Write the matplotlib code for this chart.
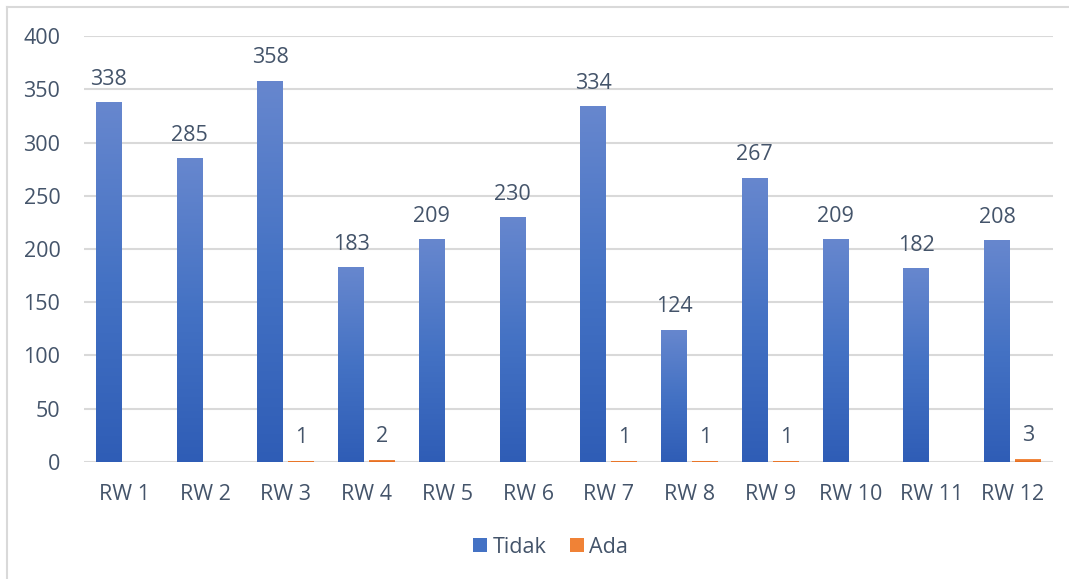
import numpy as np
import matplotlib
matplotlib.use("Agg")
import matplotlib.pyplot as plt
from matplotlib.colors import LinearSegmentedColormap
from matplotlib.lines import Line2D
from matplotlib.patches import Patch

categories = ["RW 1", "RW 2", "RW 3", "RW 4", "RW 5", "RW 6",
              "RW 7", "RW 8", "RW 9", "RW 10", "RW 11", "RW 12"]
tidak = [338, 285, 358, 183, 209, 230, 334, 124, 267, 209, 182, 208]
ada = [0, 0, 1, 2, 0, 0, 1, 1, 1, 0, 0, 3]

TEXT = "#44546A"
GRID = "#D9D9D9"
BLUE = ["#2F5DB6", "#4472C4", "#6787CE"]
ORANGE = ["#E2691C", "#F08236", "#F59A5E"]
FS = 15.5

plt.rcParams["font.family"] = ["Open Sans", "DejaVu Sans"]

fig = plt.figure(figsize=(10.69, 5.79), dpi=100)
ax = fig.add_axes([0.0786, 0.2021, 0.9064, 0.7357])

x = np.arange(len(categories))
w = 0.322
off = 0.192


def gradient_bars(xs, vals, colors):
    cmap = LinearSegmentedColormap.from_list("g", colors)
    grad = np.linspace(0, 1, 256).reshape(-1, 1)
    bars = ax.bar(xs, vals, width=w, color=colors[1], linewidth=0, zorder=2)
    for b in bars:
        h = b.get_height()
        if h <= 0:
            continue
        x0 = b.get_x()
        im = ax.imshow(grad, cmap=cmap, aspect="auto", origin="lower",
                       extent=[x0, x0 + b.get_width(), 0, h], zorder=3)
        im.set_clip_path(b)
    return bars


gradient_bars(x - off, tidak, BLUE)
gradient_bars(x + off, ada, ORANGE)

# value labels; zero counts carry no label
for xs, vals in ((x - off, tidak), (x + off, ada)):
    for xi, v in zip(xs, vals):
        if v:
            ax.annotate(str(v), (xi, v), xytext=(0, 9), textcoords="offset points",
                        ha="center", va="bottom", fontsize=FS, color=TEXT)

ax.set_xlim(-0.5, len(categories) - 0.5)
ax.set_ylim(0, 400)
ax.set_yticks(range(0, 401, 50))
ax.set_xticks(x)
ax.set_xticklabels(categories)
ax.tick_params(axis="both", length=0, labelsize=FS, labelcolor=TEXT)
ax.tick_params(axis="x", pad=16)
ax.tick_params(axis="y", pad=17)
ax.grid(axis="y", color=GRID, linewidth=1.5, zorder=0)
ax.set_axisbelow(True)
for s in ax.spines.values():
    s.set_visible(False)
ax.set_xlim(-0.5, len(categories) - 0.5)

handles = [Patch(facecolor=BLUE[1], edgecolor="none", label="Tidak"),
           Patch(facecolor=ORANGE[1], edgecolor="none", label="Ada")]
fig.legend(handles=handles, loc="center", bbox_to_anchor=(0.515, 0.055),
           ncol=2, frameon=False, fontsize=FS, labelcolor=TEXT,
           handlelength=0.65, handleheight=0.65, handletextpad=0.25,
           columnspacing=1.1)

# chart frame
fig.add_artist(Line2D([0.0065, 1.0], [0.988, 0.988], color=GRID, lw=1.5))
fig.add_artist(Line2D([0.0065, 0.0065], [0.0, 0.988], color=GRID, lw=1.5))

fig.savefig("out.png", dpi=100)
